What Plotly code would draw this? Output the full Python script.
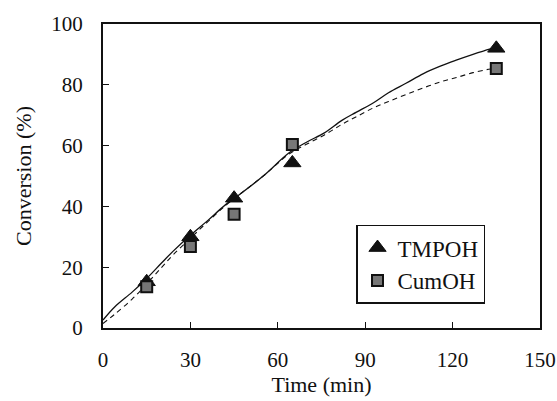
import plotly.graph_objects as go

# measured data points
time_pts = [15, 30, 45, 65, 135]
tmpoh = [15.2, 30.0, 42.7, 54.3, 92.0]
cumoh = [13.6, 26.8, 37.4, 60.4, 85.4]

# fitted curves
fit_t = [0, 4, 10, 15, 20, 24, 30, 36, 42, 47, 55, 64, 70, 76, 82, 87, 93, 98, 104, 110, 116, 121, 127, 133, 135]
tmpoh_fit = [2.6, 6.9, 11.8, 16.3, 21.3, 25.2, 30.5, 35.4, 40.5, 44.0, 50.0, 57.7, 61.2, 64.2, 68.3, 71.0, 74.2, 77.4, 80.5, 83.7, 86.2, 88.0, 90.0, 91.8, 92.3]
cumoh_fit = [1.5, 4.5, 9.5, 14.5, 19.8, 24.0, 29.5, 35.0, 40.2, 44.0, 50.0, 57.3, 60.5, 63.5, 67.0, 69.5, 72.5, 74.5, 76.8, 79.0, 81.0, 82.3, 84.0, 85.2, 85.4]

x_ticks = [0, 30, 60, 90, 120, 150]
y_ticks = [0, 20, 40, 60, 80, 100]

FONT = "Liberation Serif"
TICKFONT = dict(family=FONT, size=21, color="#111")
TITLEFONT = dict(family=FONT, size=22, color="#111")

fig = go.Figure()
fig.add_trace(go.Scatter(x=fit_t, y=tmpoh_fit, mode="lines", showlegend=False,
                         line=dict(color="#111", width=1.3), line_shape="spline"))
fig.add_trace(go.Scatter(x=fit_t, y=cumoh_fit, mode="lines", showlegend=False,
                         line=dict(color="#111", width=1.1, dash="5px,4px"), line_shape="spline"))
fig.add_trace(go.Scatter(x=time_pts, y=tmpoh, mode="markers", name="TMPOH",
                         marker=dict(symbol="triangle-up", size=15, color="#111",
                                     line=dict(color="#111", width=1))))
fig.add_trace(go.Scatter(x=time_pts, y=cumoh, mode="markers", name="CumOH",
                         marker=dict(symbol="square", size=11, color="#777",
                                     line=dict(color="#111", width=2))))

fig.update_layout(
    width=557, height=401,
    margin=dict(l=103, r=17, t=24, b=73),
    paper_bgcolor="white", plot_bgcolor="white",
    font=dict(family=FONT, size=21, color="#111"),
    showlegend=True,
    legend=dict(x=0.579, y=0.34, xanchor="left", yanchor="top",
                bordercolor="#111", borderwidth=1.5, bgcolor="white",
                font=dict(family=FONT, size=23, color="#111"),
                itemsizing="trace", tracegroupgap=6, itemwidth=30),
    xaxis=dict(range=[0, 150], tickvals=x_ticks, ticks="inside", ticklen=6,
               tickcolor="#111", showline=True, linecolor="#111", linewidth=2,
               mirror=True, showgrid=False, zeroline=False, automargin=False,
               tickfont=TICKFONT,
               title=dict(text="Time (min)", standoff=4, font=TITLEFONT),
               ticklabelstandoff=12),
    yaxis=dict(range=[0, 100], tickvals=y_ticks, ticks="inside", ticklen=6,
               tickcolor="#111", showline=True, linecolor="#111", linewidth=2,
               mirror=True, showgrid=False, zeroline=False, automargin=False,
               tickfont=TICKFONT,
               title=dict(text="Conversion (%)", standoff=14, font=TITLEFONT),
               ticklabelstandoff=14),
)

# remove the default page margin so the figure fills the window exactly
fig.write_html("out.html",
               config={"displayModeBar": False},
               post_script="document.body.style.margin='0';document.body.style.overflow='hidden';")
